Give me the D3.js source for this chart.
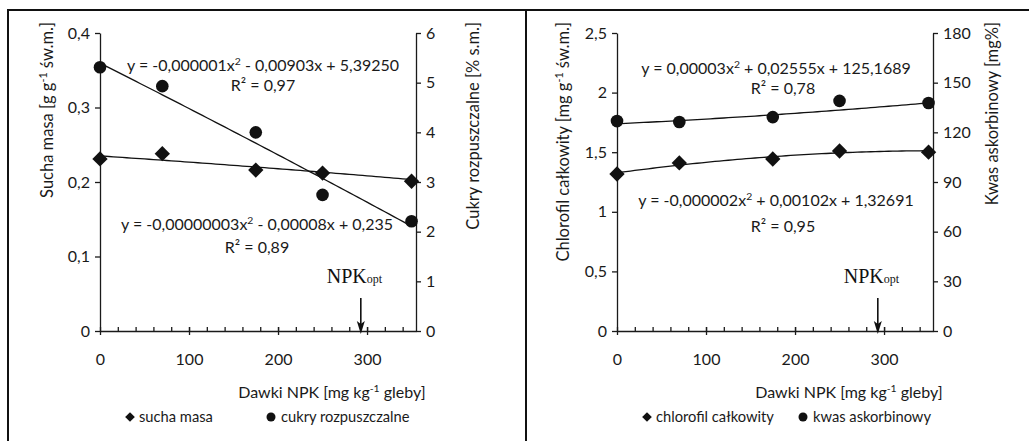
<!DOCTYPE html>
<html>
<head>
<meta charset="utf-8">
<script src="https://cdn.jsdelivr.net/npm/d3@7"></script>
<style>
    body { margin: 0; background: #fff; }
    svg { display: block; font-family: Lato, "Open Sans", sans-serif; }
    .axis path, .axis line { stroke: #1a1a1a; stroke-width: 1.3; }
    .axis text { font-size: 16px; fill: #1a1a1a; font-family: Lato, sans-serif; }
</style>
</head>
<body>
<svg width="1029" height="441"></svg>
<script>
// dawki NPK [mg/kg gleby]
const doses = [0, 70, 175, 250, 350];

// panel lewy
const suchaMasa = [0.231, 0.238, 0.216, 0.212, 0.201];
const cukry = [5.31, 4.93, 4.00, 2.74, 2.21];
// panel prawy
const chlorofil = [1.317, 1.41, 1.443, 1.51, 1.50];
const kwas = [126.8, 126.2, 129.2, 139.0, 137.7];

// trend coefficients [a, b, c] for y = a*x^2 + b*x + c
// taken from the printed equations, except chlorofil: its printed a (-0,000002)
// is rounded and gives a curve below the drawn one, so a = -0.0000014 is
// estimated from the curve in the picture (the label still shows -0,000002)
const trendSucha = [-0.00000003, -0.00008, 0.235];
const trendCukry = [-0.000001, -0.00903, 5.3925];
const trendChlorofil = [-0.0000014, 0.00102, 1.32691];
const trendKwas = [0.00003, 0.02555, 125.1689];

const npkOpt = 293;

const xTicks = [0, 100, 200, 300];
const leftTicksA = [0, 0.1, 0.2, 0.3, 0.4];
const rightTicksA = [0, 1, 2, 3, 4, 5, 6];
const leftTicksB = [0, 0.5, 1, 1.5, 2, 2.5];
const rightTicksB = [0, 30, 60, 90, 120, 150, 180];

const svg = d3.select("svg");

// ramka
svg.append("path")
    .attr("d", "M8,441 L8,10 L1029,10 M526,10 L526,441")
    .attr("fill", "none")
    .attr("stroke", "#111")
    .attr("stroke-width", 2);

const fmt = v => String(v).replace(".", ",");

function supText(sel, parts) {
    // parts: [text, isSup]
    let up = false;
    parts.forEach(p => {
        const ts = sel.append("tspan").text(p[0]);
        if (p[1]) {
            ts.attr("dy", -6).attr("font-size", "0.65em");
            up = true;
        } else if (up) {
            ts.attr("dy", 6);
            up = false;
        }
    });
}

function drawPanel(cfg) {
    const g = svg.append("g").attr("transform", `translate(${cfg.ox},0)`);
    const x = d3.scaleLinear().domain([0, 355]).range([100, 416]);
    const yL = d3.scaleLinear().domain(cfg.leftDomain).range([331, 33]);
    const yR = d3.scaleLinear().domain(cfg.rightDomain).range([331, 33]);

    // osie Y
    g.append("g").attr("class", "axis")
        .attr("transform", "translate(100,0)")
        .call(d3.axisLeft(yL).tickValues(cfg.leftTicks).tickFormat(fmt).tickSize(5).tickSizeOuter(0).tickPadding(5));
    g.append("g").attr("class", "axis")
        .attr("transform", "translate(416,0)")
        .call(d3.axisRight(yR).tickValues(cfg.rightTicks).tickFormat(fmt).tickSize(5).tickSizeOuter(0).tickPadding(5));

    // os X: drobne znaczniki co 20
    g.append("g").attr("class", "axis")
        .attr("transform", "translate(0,331)")
        .call(d3.axisBottom(x).tickValues(d3.range(20, 355, 20)).tickSize(-4).tickSizeOuter(0).tickFormat(""));
    const ax = g.append("g").attr("class", "axis")
        .attr("transform", "translate(0,331)")
        .call(d3.axisBottom(x).tickValues(xTicks).tickSize(4).tickSizeOuter(0).tickPadding(19));
    ax.selectAll(".tick line").attr("y1", -4);
    ax.select(".domain").remove();

    // tytuly osi
    g.append("text")
        .attr("transform", `translate(${cfg.leftTitleX},22) rotate(-90)`)
        .attr("text-anchor", "end")
        .attr("font-size", 16.5).attr("fill", "#1a1a1a")
        .call(supText, cfg.leftTitle);
    g.append("text")
        .attr("transform", `translate(${cfg.rightTitleX},22) rotate(-90)`)
        .attr("text-anchor", "end")
        .attr("font-size", 16.5).attr("fill", "#1a1a1a")
        .call(supText, cfg.rightTitle);
    g.append("text")
        .attr("x", 332).attr("y", 398)
        .attr("text-anchor", "middle")
        .attr("font-size", 16).attr("fill", "#1a1a1a")
        .call(supText, [["Dawki NPK [mg kg", false], ["-1", true], [" gleby]", false]]);

    // linie trendu
    const xs = d3.range(0, 351, 5);
    const poly = (c, v) => c[0] * v * v + c[1] * v + c[2];
    [[cfg.trendL, yL], [cfg.trendR, yR]].forEach(([c, sc]) => {
        g.append("path")
            .datum(xs)
            .attr("fill", "none")
            .attr("stroke", "#111")
            .attr("stroke-width", 1.3)
            .attr("d", d3.line().x(d => x(d)).y(d => sc(poly(c, d))));
    });

    // punkty
    const diamond = d3.symbol().type(d3.symbolDiamond2).size(150);
    g.selectAll(".dia").data(doses.map((d, i) => [d, cfg.seriesL[i]])).enter()
        .append("path")
        .attr("d", diamond)
        .attr("transform", d => `translate(${x(d[0])},${yL(d[1])})`)
        .attr("fill", "#111");
    g.selectAll(".dot").data(doses.map((d, i) => [d, cfg.seriesR[i]])).enter()
        .append("circle")
        .attr("cx", d => x(d[0]))
        .attr("cy", d => yR(d[1]))
        .attr("r", 6.3)
        .attr("fill", "#111");

    // rownania
    cfg.equations.forEach(e => {
        g.append("text")
            .attr("x", e.x).attr("y", e.y)
            .attr("text-anchor", "middle")
            .attr("font-size", 16).attr("fill", "#1a1a1a")
            .call(supText, e.parts);
    });

    // NPK opt
    const t = g.append("text")
        .attr("x", x(npkOpt) - 34).attr("y", 283)
        .attr("font-family", "'Liberation Serif', 'DejaVu Serif', serif")
        .attr("font-size", 20).attr("fill", "#111");
    t.append("tspan").text("NPK");
    t.append("tspan").attr("font-size", 12).text("opt");
    g.append("line")
        .attr("x1", x(npkOpt)).attr("x2", x(npkOpt))
        .attr("y1", 298).attr("y2", 325)
        .attr("stroke", "#111").attr("stroke-width", 1.6);
    g.append("path")
        .attr("d", `M${x(npkOpt) - 4},321 L${x(npkOpt)},324 L${x(npkOpt) + 4},321 L${x(npkOpt)},334 Z`)
        .attr("fill", "#111");

    // legenda
    const lg = g.append("g").attr("font-size", 14.7).attr("fill", "#1a1a1a");
    lg.append("path")
        .attr("d", d3.symbol().type(d3.symbolDiamond2).size(60))
        .attr("transform", `translate(130,417)`)
        .attr("fill", "#111");
    lg.append("text").attr("x", 139).attr("y", 422).text(cfg.legend[0]);
    lg.append("circle").attr("cx", cfg.legendX2).attr("cy", 417).attr("r", 4.5).attr("fill", "#111");
    lg.append("text").attr("x", cfg.legendX2 + 10).attr("y", 422).text(cfg.legend[1]);
}

drawPanel({
    ox: 0,
    leftDomain: [0, 0.4], rightDomain: [0, 6],
    leftTicks: leftTicksA, rightTicks: rightTicksA,
    seriesL: suchaMasa, seriesR: cukry,
    trendL: trendSucha, trendR: trendCukry,
    leftTitleX: 53, rightTitleX: 479,
    leftTitle: [["Sucha masa [g g", false], ["-1", true], [" św.m.]", false]],
    rightTitle: [["Cukry rozpuszczalne [% s.m.]", false]],
    equations: [
        { x: 263, y: 71, parts: [["y = -0,000001x", false], ["2", true], [" - 0,00903x + 5,39250", false]] },
        { x: 263, y: 91, parts: [["R² = 0,97", false]] },
        { x: 257, y: 230, parts: [["y = -0,00000003x", false], ["2", true], [" - 0,00008x + 0,235", false]] },
        { x: 257, y: 253, parts: [["R² = 0,89", false]] }
    ],
    legend: ["sucha masa", "cukry rozpuszczalne"],
    legendX2: 271
});

drawPanel({
    ox: 517,
    leftDomain: [0, 2.5], rightDomain: [0, 180],
    leftTicks: leftTicksB, rightTicks: rightTicksB,
    seriesL: chlorofil, seriesR: kwas,
    trendL: trendChlorofil, trendR: trendKwas,
    leftTitleX: 52, rightTitleX: 481,
    leftTitle: [["Chlorofil całkowity [mg g", false], ["-1", true], [" św.m.]", false]],
    rightTitle: [["Kwas askorbinowy [mg%]", false]],
    equations: [
        { x: 259, y: 74, parts: [["y = 0,00003x", false], ["2", true], [" + 0,02555x + 125,1689", false]] },
        { x: 266, y: 94, parts: [["R² = 0,78", false]] },
        { x: 259, y: 206, parts: [["y = -0,000002x", false], ["2", true], [" + 0,00102x + 1,32691", false]] },
        { x: 266, y: 232, parts: [["R² = 0,95", false]] }
    ],
    legend: ["chlorofil całkowity", "kwas askorbinowy"],
    legendX2: 286
});
</script>
</body>
</html>
